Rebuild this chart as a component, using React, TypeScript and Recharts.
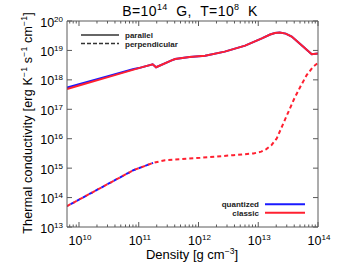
import React from "react";
import { LineChart, Line, XAxis, YAxis } from "recharts";

// ---- data (density in g cm^-3, conductivity in erg K^-1 s^-1 cm^-1) ----
const parClassicRho = [6.31e9, 1e10, 3.16e10, 1e11, 1.71e11, 1.95e11, 3.55e11, 4.07e11, 7.08e11, 1.29e12, 2.75e12, 6.03e12, 1.15e13, 1.58e13, 1.9e13, 2.29e13, 2.88e13, 3.63e13, 5.62e13, 7.85e13, 1e14];
const parClassicK = [4.9e17, 6.46e17, 1.26e18, 2.51e18, 3.39e18, 2.69e18, 4.57e18, 5.13e18, 6.03e18, 6.61e18, 9.12e18, 1.45e19, 2.57e19, 3.47e19, 3.89e19, 4.07e19, 3.72e19, 2.95e19, 1.35e19, 7.41e18, 7.94e18];

const parQuantRho = [6.31e9, 1e10, 3.16e10, 7.94e10, 1e11, 1.71e11, 1.95e11, 3.55e11, 4.07e11, 7.08e11, 1.29e12, 2.75e12, 6.03e12, 1.15e13, 1.58e13, 1.9e13, 2.29e13, 2.88e13, 3.63e13, 5.62e13, 7.85e13, 1e14];
const parQuantK = [5.5e17, 7.08e17, 1.35e18, 2.29e18, 2.51e18, 3.39e18, 2.69e18, 4.57e18, 5.13e18, 6.03e18, 6.61e18, 9.12e18, 1.45e19, 2.57e19, 3.47e19, 3.89e19, 4.07e19, 3.72e19, 2.95e19, 1.35e19, 7.41e18, 7.94e18];

const perpClassicRho = [6.31e9, 1e10, 3.16e10, 8.13e10, 1.74e11, 2.75e11, 1.07e12, 3.8e12, 8.32e12, 1.12e13, 1.35e13, 1.66e13, 2.04e13, 2.63e13, 3.98e13, 5.01e13, 6.46e13, 8.32e13, 1e14];
const perpClassicK = [5.13e13, 8.51e13, 3.02e14, 8.51e14, 1.51e15, 1.86e15, 2.24e15, 2.75e15, 3.16e15, 3.63e15, 4.37e15, 6.03e15, 1.02e16, 3.31e16, 2.24e17, 5.62e17, 1.45e18, 2.82e18, 3.8e18];

const perpQuantRho = [6.31e9, 1e10, 3.16e10, 8.13e10, 1.74e11];
const perpQuantK = [5.13e13, 8.51e13, 3.02e14, 8.51e14, 1.51e15];

const yMajorTicks = [1e13, 1e14, 1e15, 1e16, 1e17, 1e18, 1e19, 1e20];
const xAllTicks = [
  7e9, 8e9, 9e9,
  1e10, 2e10, 3e10, 4e10, 5e10, 6e10, 7e10, 8e10, 9e10,
  1e11, 2e11, 3e11, 4e11, 5e11, 6e11, 7e11, 8e11, 9e11,
  1e12, 2e12, 3e12, 4e12, 5e12, 6e12, 7e12, 8e12, 9e12,
  1e13, 2e13, 3e13, 4e13, 5e13, 6e13, 7e13, 8e13, 9e13,
  1e14,
];

const zip = (xs: number[], ys: number[]) => xs.map((rho, i) => ({ rho, k: ys[i] }));
const parClassic = zip(parClassicRho, parClassicK);
const parQuant = zip(parQuantRho, parQuantK);
const perpClassic = zip(perpClassicRho, perpClassicK);
const perpQuant = zip(perpQuantRho, perpQuantK);

const FONT = "Liberation Sans, Arial, sans-serif";
const AXIS = "#5a5a5a";
const RED = "#ff2030";
const BLUE = "#1a1aff";

const isMajor = (v: number) => {
  const l = Math.log10(v);
  return Math.abs(l - Math.round(l)) < 1e-6;
};
const expOf = (v: number) => Math.round(Math.log10(v));

const Pow = ({ x, y, e, anchor }: { x: number; y: number; e: number; anchor: "middle" | "end" }) => (
  <text x={x} y={y} textAnchor={anchor} fontFamily={FONT} fontSize={12.5} fill="#000">
    <tspan>10</tspan>
    <tspan dy={-5} fontSize={8}>{e}</tspan>
  </text>
);

const BottomTick = (props: any) => {
  const { x, y, payload } = props;
  const v = payload.value;
  const major = isMajor(v);
  return (
    <g>
      <line x1={x} x2={x} y1={y} y2={y - (major ? 5 : 2.5)} stroke={AXIS} strokeWidth={1} />
      {major && <Pow x={x + 1} y={y + 18} e={expOf(v)} anchor="middle" />}
    </g>
  );
};

const TopTick = (props: any) => {
  const { x, y, payload } = props;
  const major = isMajor(payload.value);
  return <line x1={x} x2={x} y1={y} y2={y + (major ? 5 : 2.5)} stroke={AXIS} strokeWidth={1} />;
};

const LeftTick = (props: any) => {
  const { x, y, payload } = props;
  return (
    <g>
      <line x1={x} x2={x + 5} y1={y} y2={y} stroke={AXIS} strokeWidth={1} />
      <Pow x={x - 4} y={y + 5.5} e={expOf(payload.value)} anchor="end" />
    </g>
  );
};

const RightTick = (props: any) => {
  const { x, y } = props;
  return <line x1={x} x2={x - 5} y1={y} y2={y} stroke={AXIS} strokeWidth={1} />;
};

export default function App() {
  return (
    <div style={{ position: "relative", width: 338, height: 271, background: "#fff" }}>
      <style>{`body{margin:0}`}</style>
      <LineChart width={338} height={271} margin={{ top: 0, right: 0, bottom: 0, left: 0 }}>
        <XAxis
          xAxisId="b"
          type="number"
          dataKey="rho"
          scale="log"
          domain={[6.3e9, 1e14]}
          allowDataOverflow
          ticks={xAllTicks}
          interval={0}
          tick={<BottomTick />}
          tickLine={false}
          tickSize={0}
          tickMargin={0}
          axisLine={{ stroke: AXIS }}
          height={44}
        />
        <XAxis
          xAxisId="t"
          orientation="top"
          type="number"
          dataKey="rho"
          scale="log"
          domain={[6.3e9, 1e14]}
          allowDataOverflow
          ticks={xAllTicks}
          interval={0}
          tick={<TopTick />}
          tickLine={false}
          tickSize={0}
          tickMargin={0}
          axisLine={{ stroke: AXIS }}
          height={21}
        />
        <YAxis
          yAxisId="l"
          type="number"
          scale="log"
          domain={[1e13, 1e20]}
          allowDataOverflow
          ticks={yMajorTicks}
          interval={0}
          tick={<LeftTick />}
          tickLine={false}
          tickSize={0}
          tickMargin={0}
          axisLine={{ stroke: AXIS }}
          width={67}
        />
        <YAxis
          yAxisId="r"
          orientation="right"
          type="number"
          scale="log"
          domain={[1e13, 1e20]}
          allowDataOverflow
          ticks={yMajorTicks}
          interval={0}
          tick={<RightTick />}
          tickLine={false}
          tickSize={0}
          tickMargin={0}
          axisLine={{ stroke: AXIS }}
          width={20}
        />
        <Line xAxisId="b" yAxisId="l" data={parQuant} dataKey="k" stroke={BLUE} strokeWidth={2} dot={false} isAnimationActive={false} type="linear" />
        <Line xAxisId="b" yAxisId="l" data={parClassic} dataKey="k" stroke={RED} strokeWidth={2} dot={false} isAnimationActive={false} type="linear" />
        <Line xAxisId="b" yAxisId="l" data={perpQuant} dataKey="k" stroke={BLUE} strokeWidth={2} strokeDasharray="4 3" strokeDashoffset={-4} dot={false} isAnimationActive={false} type="linear" />
        <Line xAxisId="b" yAxisId="l" data={perpClassic} dataKey="k" stroke={RED} strokeWidth={2} strokeDasharray="4 3" dot={false} isAnimationActive={false} type="linear" />
      </LineChart>
      <svg width={338} height={271} style={{ position: "absolute", left: 0, top: 0, pointerEvents: "none" }}>
        {/* title */}
        <text x={190} y={15.5} textAnchor="middle" fontFamily={FONT} fontSize={14} letterSpacing={0.4} fill="#000" style={{ whiteSpace: "pre" }}>
          <tspan>B=10</tspan>
          <tspan dy={-6} fontSize={9}>14</tspan>
          <tspan dy={6}>{"  G,  T=10"}</tspan>
          <tspan dy={-6} fontSize={9}>8</tspan>
          <tspan dy={6}>{"  K"}</tspan>
        </text>
        {/* x label */}
        <text x={192} y={259} textAnchor="middle" fontFamily={FONT} fontSize={13} fill="#000" style={{ whiteSpace: "pre" }}>
          <tspan>Density [g cm</tspan>
          <tspan dy={-5} fontSize={8.5}>−3</tspan>
          <tspan dy={5}>]</tspan>
        </text>
        {/* y label */}
        <text
          transform="translate(32,123) rotate(-90)"
          textAnchor="middle"
          fontFamily={FONT}
          fontSize={12.5}
          letterSpacing={0.2}
          fill="#000"
          style={{ whiteSpace: "pre" }}
        >
          <tspan>Thermal conductivity [erg K</tspan>
          <tspan dy={-5} fontSize={8.5}>−1</tspan>
          <tspan dy={5}>{" s"}</tspan>
          <tspan dy={-5} fontSize={8.5}>−1</tspan>
          <tspan dy={5}>{" cm"}</tspan>
          <tspan dy={-5} fontSize={8.5}>−1</tspan>
          <tspan dy={5}>]</tspan>
        </text>
        {/* top-left legend */}
        <line x1={81} x2={119} y1={35} y2={35} stroke="#333" strokeWidth={1.5} />
        <text x={125} y={38} fontFamily={FONT} fontSize={8} fontWeight="bold" fill="#222">parallel</text>
        <line x1={81} x2={119} y1={43.5} y2={43.5} stroke="#333" strokeWidth={1.5} strokeDasharray="4 2" />
        <text x={125} y={46.5} fontFamily={FONT} fontSize={8} fontWeight="bold" fill="#222">perpendicular</text>
        {/* bottom-right legend */}
        <text x={259} y={207} textAnchor="end" fontFamily={FONT} fontSize={8} fontWeight="bold" fill="#222">quantized</text>
        <line x1={265} x2={305} y1={204.3} y2={204.3} stroke={BLUE} strokeWidth={2} />
        <text x={259} y={215.5} textAnchor="end" fontFamily={FONT} fontSize={8} fontWeight="bold" fill="#222">classic</text>
        <line x1={265} x2={305} y1={212.7} y2={212.7} stroke={RED} strokeWidth={2} />
      </svg>
    </div>
  );
}
